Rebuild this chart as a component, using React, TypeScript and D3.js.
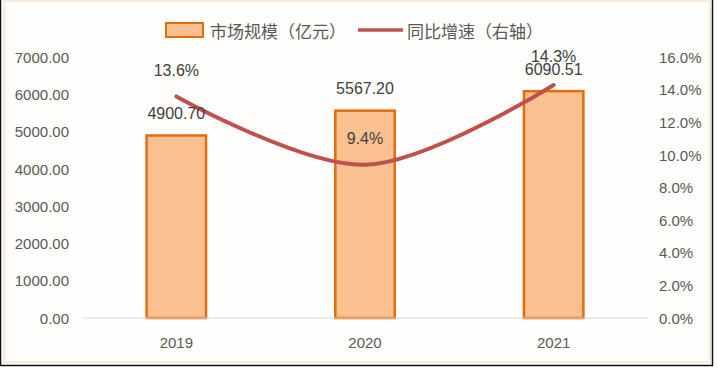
import { useEffect } from 'react'
import * as d3 from 'd3'

const years = ['2019', '2020', '2021']
const marketSize = [4900.7, 5567.2, 6090.51]
const growthRate = [13.6, 9.4, 14.3]
const leftTicks = [0, 1000, 2000, 3000, 4000, 5000, 6000, 7000]
const rightTicks = [0, 2, 4, 6, 8, 10, 12, 14, 16]
const growthLabelOffset = [26, 26, 28]

const W = 717
const H = 367
const numFont = "'Liberation Sans', Arial, sans-serif"
const cjkFont = "'Noto Sans CJK SC', sans-serif"

export default function App() {
  useEffect(() => {
    document.body.style.margin = '0'
  }, [])

  const x = d3
    .scaleBand<string>()
    .domain(years)
    .range([82, 648])
    .paddingInner(0.685)
    .paddingOuter(0.3425)

  const yLeft = d3.scaleLinear().domain([0, 7000]).range([318, 57.3])
  const yRight = d3.scaleLinear().domain([0, 16]).range([318, 57.3])

  const pts: [number, number][] = years.map((yr, i) => [
    (x(yr) ?? 0) + x.bandwidth() / 2,
    yRight(growthRate[i]),
  ])
  const line = d3.line().curve(d3.curveCatmullRom.alpha(0.5))(pts) ?? ''

  return (
    <svg width={W} height={H} style={{ display: 'block', background: '#fff' }}>
      {/* frame */}
      <rect x={4} y={1} width={706} height={361} fill="#fffefc" stroke="#fbe3cc" strokeWidth={1.5} />
      <line x1={0.5} y1={0} x2={0.5} y2={365.5} stroke="#111" strokeWidth={1.5} />
      <line x1={712.5} y1={0} x2={712.5} y2={365.5} stroke="#111" strokeWidth={1.5} />
      <line x1={0} y1={365.5} x2={713} y2={365.5} stroke="#111" strokeWidth={1.5} />

      {/* legend */}
      <rect x={166} y={23} width={37} height={14} fill="#fac090" stroke="#e46c0a" strokeWidth={2} />
      <text x={210} y={30} dominantBaseline="central" fontFamily={cjkFont} fontSize={17} fill="#595959">
        市场规模（亿元）
      </text>
      <line x1={358} y1={30} x2={403} y2={30} stroke="#c0504d" strokeWidth={3.5} />
      <text x={407} y={30} dominantBaseline="central" fontFamily={cjkFont} fontSize={17} fill="#595959">
        同比增速（右轴）
      </text>

      {/* left axis */}
      {leftTicks.map((t) => (
        <text
          key={'l' + t}
          x={69}
          y={yLeft(t)}
          textAnchor="end"
          dominantBaseline="central"
          fontFamily={numFont}
          fontSize={15}
          fill="#595959"
        >
          {t.toFixed(2)}
        </text>
      ))}

      {/* right axis */}
      {rightTicks.map((t) => (
        <text
          key={'r' + t}
          x={659}
          y={yRight(t)}
          dominantBaseline="central"
          fontFamily={numFont}
          fontSize={15}
          fill="#595959"
        >
          {t.toFixed(1)}%
        </text>
      ))}

      {/* bars */}
      {years.map((yr, i) => (
        <rect
          key={'b' + yr}
          x={x(yr)}
          y={yLeft(marketSize[i])}
          width={x.bandwidth()}
          height={yLeft(0) - yLeft(marketSize[i])}
          fill="#fac090"
          stroke="#e46c0a"
          strokeWidth={2.5}
        />
      ))}

      {/* baseline */}
      <line x1={82} y1={318} x2={648} y2={318} stroke="#d9d9d9" strokeWidth={1} />

      {/* x labels */}
      {years.map((yr) => (
        <text
          key={'x' + yr}
          x={(x(yr) ?? 0) + x.bandwidth() / 2}
          y={342}
          textAnchor="middle"
          dominantBaseline="central"
          fontFamily={numFont}
          fontSize={15}
          fill="#595959"
        >
          {yr}
        </text>
      ))}

      {/* growth line */}
      <path d={line} fill="none" stroke="#c0504d" strokeWidth={4} strokeLinecap="round" />

      {/* bar labels */}
      {years.map((yr, i) => (
        <text
          key={'bl' + yr}
          x={(x(yr) ?? 0) + x.bandwidth() / 2}
          y={yLeft(marketSize[i]) - 22}
          textAnchor="middle"
          dominantBaseline="central"
          fontFamily={numFont}
          fontSize={16}
          fill="#404040"
        >
          {marketSize[i].toFixed(2)}
        </text>
      ))}

      {/* growth labels */}
      {years.map((yr, i) => (
        <text
          key={'gl' + yr}
          x={(x(yr) ?? 0) + x.bandwidth() / 2}
          y={yRight(growthRate[i]) - growthLabelOffset[i]}
          textAnchor="middle"
          dominantBaseline="central"
          fontFamily={numFont}
          fontSize={16}
          fill="#404040"
        >
          {growthRate[i].toFixed(1)}%
        </text>
      ))}
    </svg>
  )
}
